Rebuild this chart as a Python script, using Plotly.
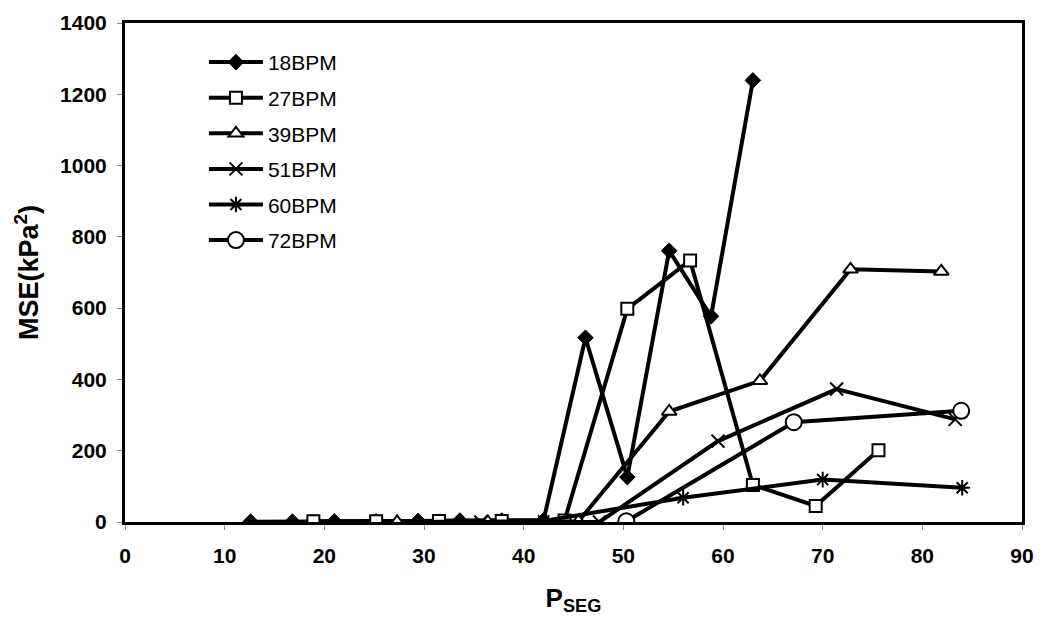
import plotly.graph_objects as go

# ---- data ----
x18 = [12.6, 16.8, 21.0, 25.2, 29.4, 33.6, 37.8, 42.0, 46.2, 50.4, 54.6, 58.8, 63.0]
y18 = [1, 1, 2, 2, 3, 4, 4, 5, 517, 126, 761, 577, 1239]

x27 = [18.9, 25.2, 31.5, 37.8, 44.1, 50.4, 56.7, 63.0, 69.3, 75.6]
y27 = [2, 2, 3, 3, 4, 598, 734, 104, 45, 201]

x39 = [27.3, 36.4, 45.5, 54.6, 63.7, 72.8, 81.9]
y39 = [0, 0, 2, 310, 396, 709, 703]

x51 = [35.7, 47.6, 59.5, 71.4, 83.3]
y51 = [0, 0, 227, 373, 288]

x60 = [42.0, 56.0, 70.0, 84.0]
y60 = [3, 68, 119, 96]

x72 = [50.3, 67.1, 83.9]
y72 = [2, 280, 312]

names = ["18BPM", "27BPM", "39BPM", "51BPM", "60BPM", "72BPM"]
x_ticks = [0, 10, 20, 30, 40, 50, 60, 70, 80, 90]
y_ticks = [0, 200, 400, 600, 800, 1000, 1200, 1400]

series = [(x18, y18), (x27, y27), (x39, y39), (x51, y51), (x60, y60), (x72, y72)]
styles = [
    dict(symbol="diamond", size=12, color="black", line=dict(color="black", width=1)),
    dict(symbol="square", size=12, color="white", line=dict(color="black", width=2)),
    dict(symbol="triangle-up", size=13, color="white", line=dict(color="black", width=2)),
    dict(symbol="x-thin", size=13, color="black", line=dict(color="black", width=2)),
    dict(symbol="asterisk", size=13, color="black", line=dict(color="black", width=2)),
    dict(symbol="circle", size=16, color="white", line=dict(color="black", width=2)),
]

fig = go.Figure()
for (xs, ys), name, st in zip(series, names, styles):
    fig.add_trace(go.Scatter(
        x=xs, y=ys, name=name, mode="lines+markers", legendgroup=name,
        line=dict(color="black", width=4),
        marker=st,
    ))

font_family = "Liberation Sans, Arial, sans-serif"
fig.update_layout(
    width=1034, height=608,
    margin=dict(l=117, r=19.5, t=14.5, b=93.5, autoexpand=False),
    paper_bgcolor="white", plot_bgcolor="white",
    font=dict(family=font_family, color="black"),
    showlegend=True,
    legend=dict(
        x=0.088, y=0.962, xanchor="left", yanchor="top",
        font=dict(size=21, family=font_family, color="black"),
        bgcolor="rgba(0,0,0,0)", tracegroupgap=5.3, itemwidth=54,
    ),
    xaxis=dict(
        range=[0, 90], tickvals=x_ticks, showgrid=False, zeroline=False,
        showline=True, linecolor="black", linewidth=3, mirror=True,
        ticks="outside", ticklen=5, tickcolor="#888", tickwidth=1,
        tickfont=dict(size=21, weight="bold", family=font_family),
        ticklabelstandoff=8, automargin=False,
        title=dict(text="P<sub>SEG</sub>", font=dict(size=26, weight="bold", family=font_family), standoff=25),
    ),
    yaxis=dict(
        range=[0, 1400], tickvals=y_ticks, showgrid=False, zeroline=False,
        showline=True, linecolor="black", linewidth=3, mirror=True,
        ticks="outside", ticklen=5, tickcolor="#888", tickwidth=1,
        tickfont=dict(size=21, weight="bold", family=font_family),
        ticklabelstandoff=6, automargin=False,
        title=dict(text="MSE(kPa<sup>2</sup>)", font=dict(size=27, weight="bold", family=font_family), standoff=14),
    ),
)

fig.write_html("out.html")
